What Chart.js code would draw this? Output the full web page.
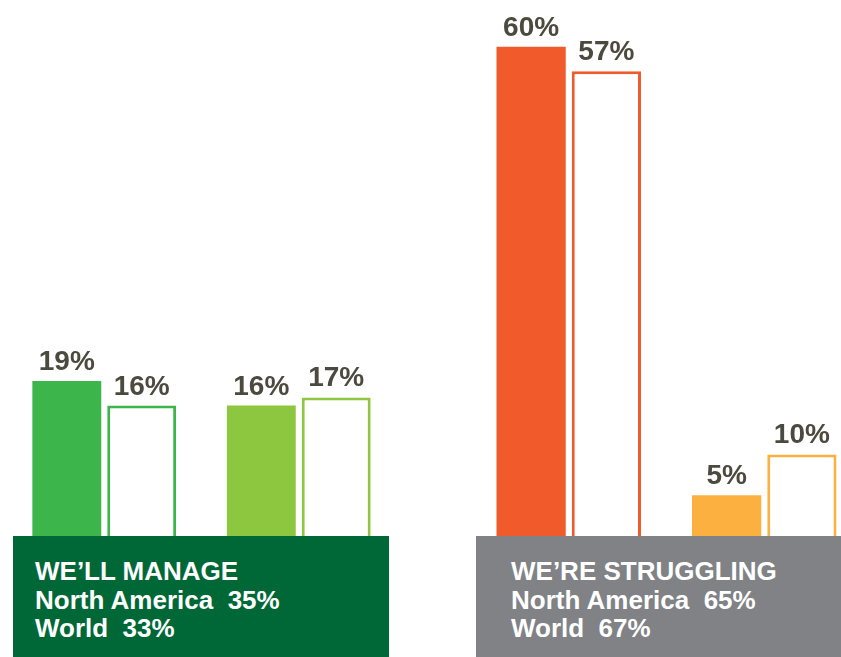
<!DOCTYPE html>
<html>
<head>
<meta charset="utf-8">
<script src="https://cdn.jsdelivr.net/npm/chart.js@4/dist/chart.umd.min.js"></script>
<style>
  html, body { margin: 0; padding: 0; background: #fff; width: 841px; height: 657px; overflow: hidden; position: relative; }
  canvas { position: absolute; top: 0; }
  #leftChart { left: 7px; }
  #rightChart { left: 471px; }
  .box { position: absolute; top: 536px; height: 121px; box-sizing: border-box; padding-top: 21px;
         color: #fff; font-family: "Liberation Sans", Arial, sans-serif; font-weight: bold; font-size: 26px; line-height: 28.5px; white-space: pre; }
  #manageBox { left: 13px; width: 376px; background: #006837; padding-left: 22px; }
  #struggleBox { left: 476px; width: 365px; background: #808285; padding-left: 35px; }
</style>
</head>
<body>
<canvas id="leftChart" width="389" height="536"></canvas>
<canvas id="rightChart" width="391" height="536"></canvas>
<div class="box" id="manageBox"></div>
<div class="box" id="struggleBox"></div>
<script>
// data
let categories = ['1', '2']
let seriesNames = ['North America', 'World']
// we'll manage
let manageNorthAmerica = [19, 16]
let manageWorld = [16, 17]
// we're struggling
let struggleNorthAmerica = [60, 5]
let struggleWorld = [57, 10]

// colors per bar
let manageColors = ['#3cb54a', '#8dc63f']
let struggleColors = ['#f15a2b', '#fbb040']

// text above each bar
const valueLabels = {
  id: 'valueLabels',
  afterDatasetsDraw(chart) {
    const ctx = chart.ctx
    ctx.save()
    ctx.font = 'bold 28px "Liberation Sans", Arial, sans-serif'
    ctx.fillStyle = '#4b4a3f'
    ctx.textAlign = 'center'
    ctx.textBaseline = 'alphabetic'
    chart.data.datasets.forEach((ds, i) => {
      chart.getDatasetMeta(i).data.forEach((bar, j) => {
        ctx.fillText(ds.data[j] + '%', bar.x, bar.y - 11)
      })
    })
    ctx.restore()
  }
}

function makeChart(id, naValues, worldValues, colors) {
  return new Chart(document.getElementById(id), {
    type: 'bar',
    data: {
      labels: categories,
      datasets: [
        { label: seriesNames[0], data: naValues, backgroundColor: colors, borderWidth: 0 },
        { label: seriesNames[1], data: worldValues, backgroundColor: '#ffffff', borderColor: colors, borderWidth: 3 }
      ]
    },
    options: {
      responsive: false,
      animation: false,
      events: [],
      categoryPercentage: 0.77,
      barPercentage: 0.92,
      layout: { padding: { top: 6, left: 0, right: 0, bottom: 0 } },
      plugins: { legend: { display: false }, tooltip: { enabled: false } },
      scales: {
        x: { display: false },
        y: { display: false, min: 0, max: 65 }
      }
    },
    plugins: [valueLabels]
  })
}

makeChart('leftChart', manageNorthAmerica, manageWorld, manageColors)
makeChart('rightChart', struggleNorthAmerica, struggleWorld, struggleColors)

// summary boxes, totals from the arrays
const sum = arr => arr.reduce((a, b) => a + b, 0)
document.getElementById('manageBox').textContent =
  'WE\u2019LL MANAGE\nNorth America  ' + sum(manageNorthAmerica) + '%\nWorld  ' + sum(manageWorld) + '%'
document.getElementById('struggleBox').textContent =
  'WE\u2019RE STRUGGLING\nNorth America  ' + sum(struggleNorthAmerica) + '%\nWorld  ' + sum(struggleWorld) + '%'
</script>
</body>
</html>
